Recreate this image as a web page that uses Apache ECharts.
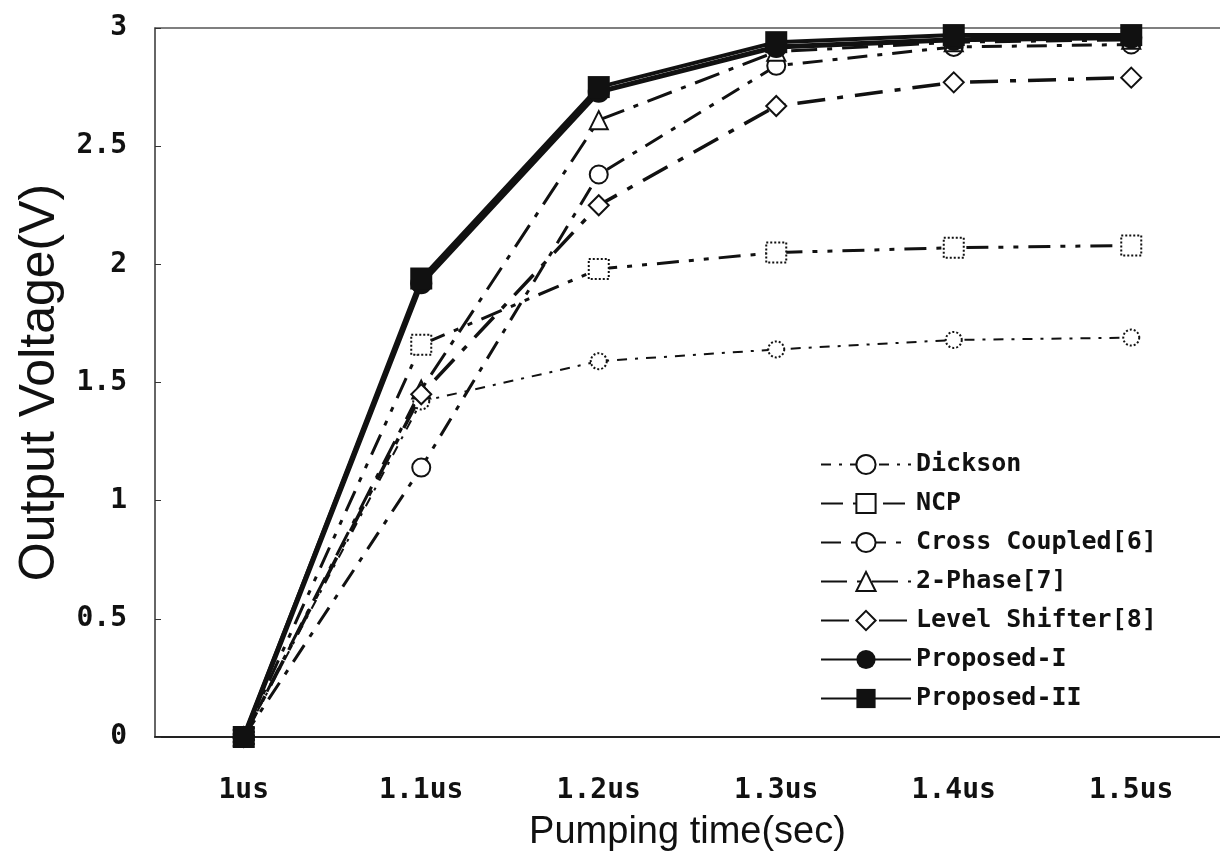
<!DOCTYPE html>
<html>
<head>
<meta charset="utf-8">
<script src="https://cdn.jsdelivr.net/npm/echarts@6.0.0/dist/echarts.min.js"></script>
<style>
  html, body { margin: 0; padding: 0; background: #fff; }
  #main { width: 1220px; height: 861px; }
</style>
</head>
<body>
<div id="main"></div>
<script>
// pumping time categories
var times = ['1us', '1.1us', '1.2us', '1.3us', '1.4us', '1.5us'];

// output voltage (V)
var dickson      = [0, 1.42, 1.59, 1.64, 1.68, 1.69];
var ncp          = [0, 1.66, 1.98, 2.05, 2.07, 2.08];
var crossCoupled = [0, 1.14, 2.38, 2.84, 2.92, 2.93];
var twoPhase     = [0, 1.47, 2.61, 2.90, 2.94, 2.95];
var levelShifter = [0, 1.45, 2.25, 2.67, 2.77, 2.79];
var proposed1    = [0, 1.92, 2.73, 2.92, 2.95, 2.96];
var proposed2    = [0, 1.94, 2.75, 2.94, 2.97, 2.97];

var monoFont = 'DejaVu Sans Mono';
var black = '#111';

var myChart = echarts.init(document.getElementById('main'));

function openMarker(name, data, symbol, size, dash, width, borderType) {
    return {
        name: name,
        type: 'line',
        data: data,
        symbol: symbol,
        symbolSize: size,
        lineStyle: { color: black, width: width, type: dash },
        itemStyle: { color: '#fff', borderColor: black, borderWidth: 2, borderType: borderType || 'solid' }
    };
}

option = {
    animation: false,
    backgroundColor: '#fff',
    grid: { left: 155, right: 0, top: 28, bottom: 124 },
    legend: {
        orient: 'vertical',
        left: 815,
        top: 447,
        itemWidth: 90,
        itemHeight: 24,
        itemGap: 14,
        textStyle: { color: black, fontFamily: monoFont, fontSize: 25, fontWeight: 'bold' },
        data: ['Dickson', 'NCP', 'Cross Coupled[6]', '2-Phase[7]', 'Level Shifter[8]', 'Proposed-I', 'Proposed-II']
    },
    xAxis: [{
        type: 'category',
        data: times,
        boundaryGap: true,
        name: 'Pumping time(sec)',
        nameLocation: 'middle',
        nameGap: 77,
        nameTextStyle: { color: black, fontFamily: 'Liberation Sans', fontSize: 38 },
        axisLine: { lineStyle: { color: '#222', width: 2 } },
        axisTick: { inside: true, length: 6, lineStyle: { color: '#222' } },
        axisLabel: { color: black, fontFamily: monoFont, fontSize: 28, fontWeight: 'bold', margin: 40 }
    }, {
        type: 'category',
        data: times,
        position: 'top',
        axisLine: { lineStyle: { color: '#555', width: 1.5 } },
        axisTick: { show: false },
        axisLabel: { show: false }
    }],
    yAxis: {
        type: 'value',
        min: 0,
        max: 3,
        interval: 0.5,
        name: 'Output Voltage(V)',
        nameLocation: 'middle',
        nameGap: 82,
        nameTextStyle: { color: black, fontFamily: 'Liberation Sans', fontSize: 50 },
        axisLine: { show: true, lineStyle: { color: '#333', width: 1.5 } },
        axisTick: { show: true, inside: true, length: 6, lineStyle: { color: '#333' } },
        axisLabel: { color: black, fontFamily: monoFont, fontSize: 28, fontWeight: 'bold', margin: 28 },
        splitLine: { show: false }
    },
    series: [
        openMarker('Dickson', dickson, 'circle', 16, [10, 8, 3, 8], 2, 'dotted'),
        openMarker('NCP', ncp, 'rect', 20, [22, 10, 5, 10, 5, 10], 3, 'dotted'),
        openMarker('Cross Coupled[6]', crossCoupled, 'circle', 18, [20, 10, 5, 10], 3),
        openMarker('2-Phase[7]', twoPhase, 'triangle', 18, [26, 10, 5, 10], 3),
        openMarker('Level Shifter[8]', levelShifter, 'diamond', 20, [28, 12, 6, 12], 3.5),
        {
            name: 'Proposed-I',
            type: 'line',
            data: proposed1,
            symbol: 'circle',
            symbolSize: 22,
            z: 5,
            lineStyle: { color: black, width: 5 },
            itemStyle: { color: black }
        },
        {
            name: 'Proposed-II',
            type: 'line',
            data: proposed2,
            symbol: 'rect',
            symbolSize: 22,
            z: 6,
            lineStyle: { color: black, width: 4 },
            itemStyle: { color: black }
        }
    ]
};

myChart.setOption(option);

window.addEventListener('resize', function () {
    myChart.resize();
});
</script>
</body>
</html>
